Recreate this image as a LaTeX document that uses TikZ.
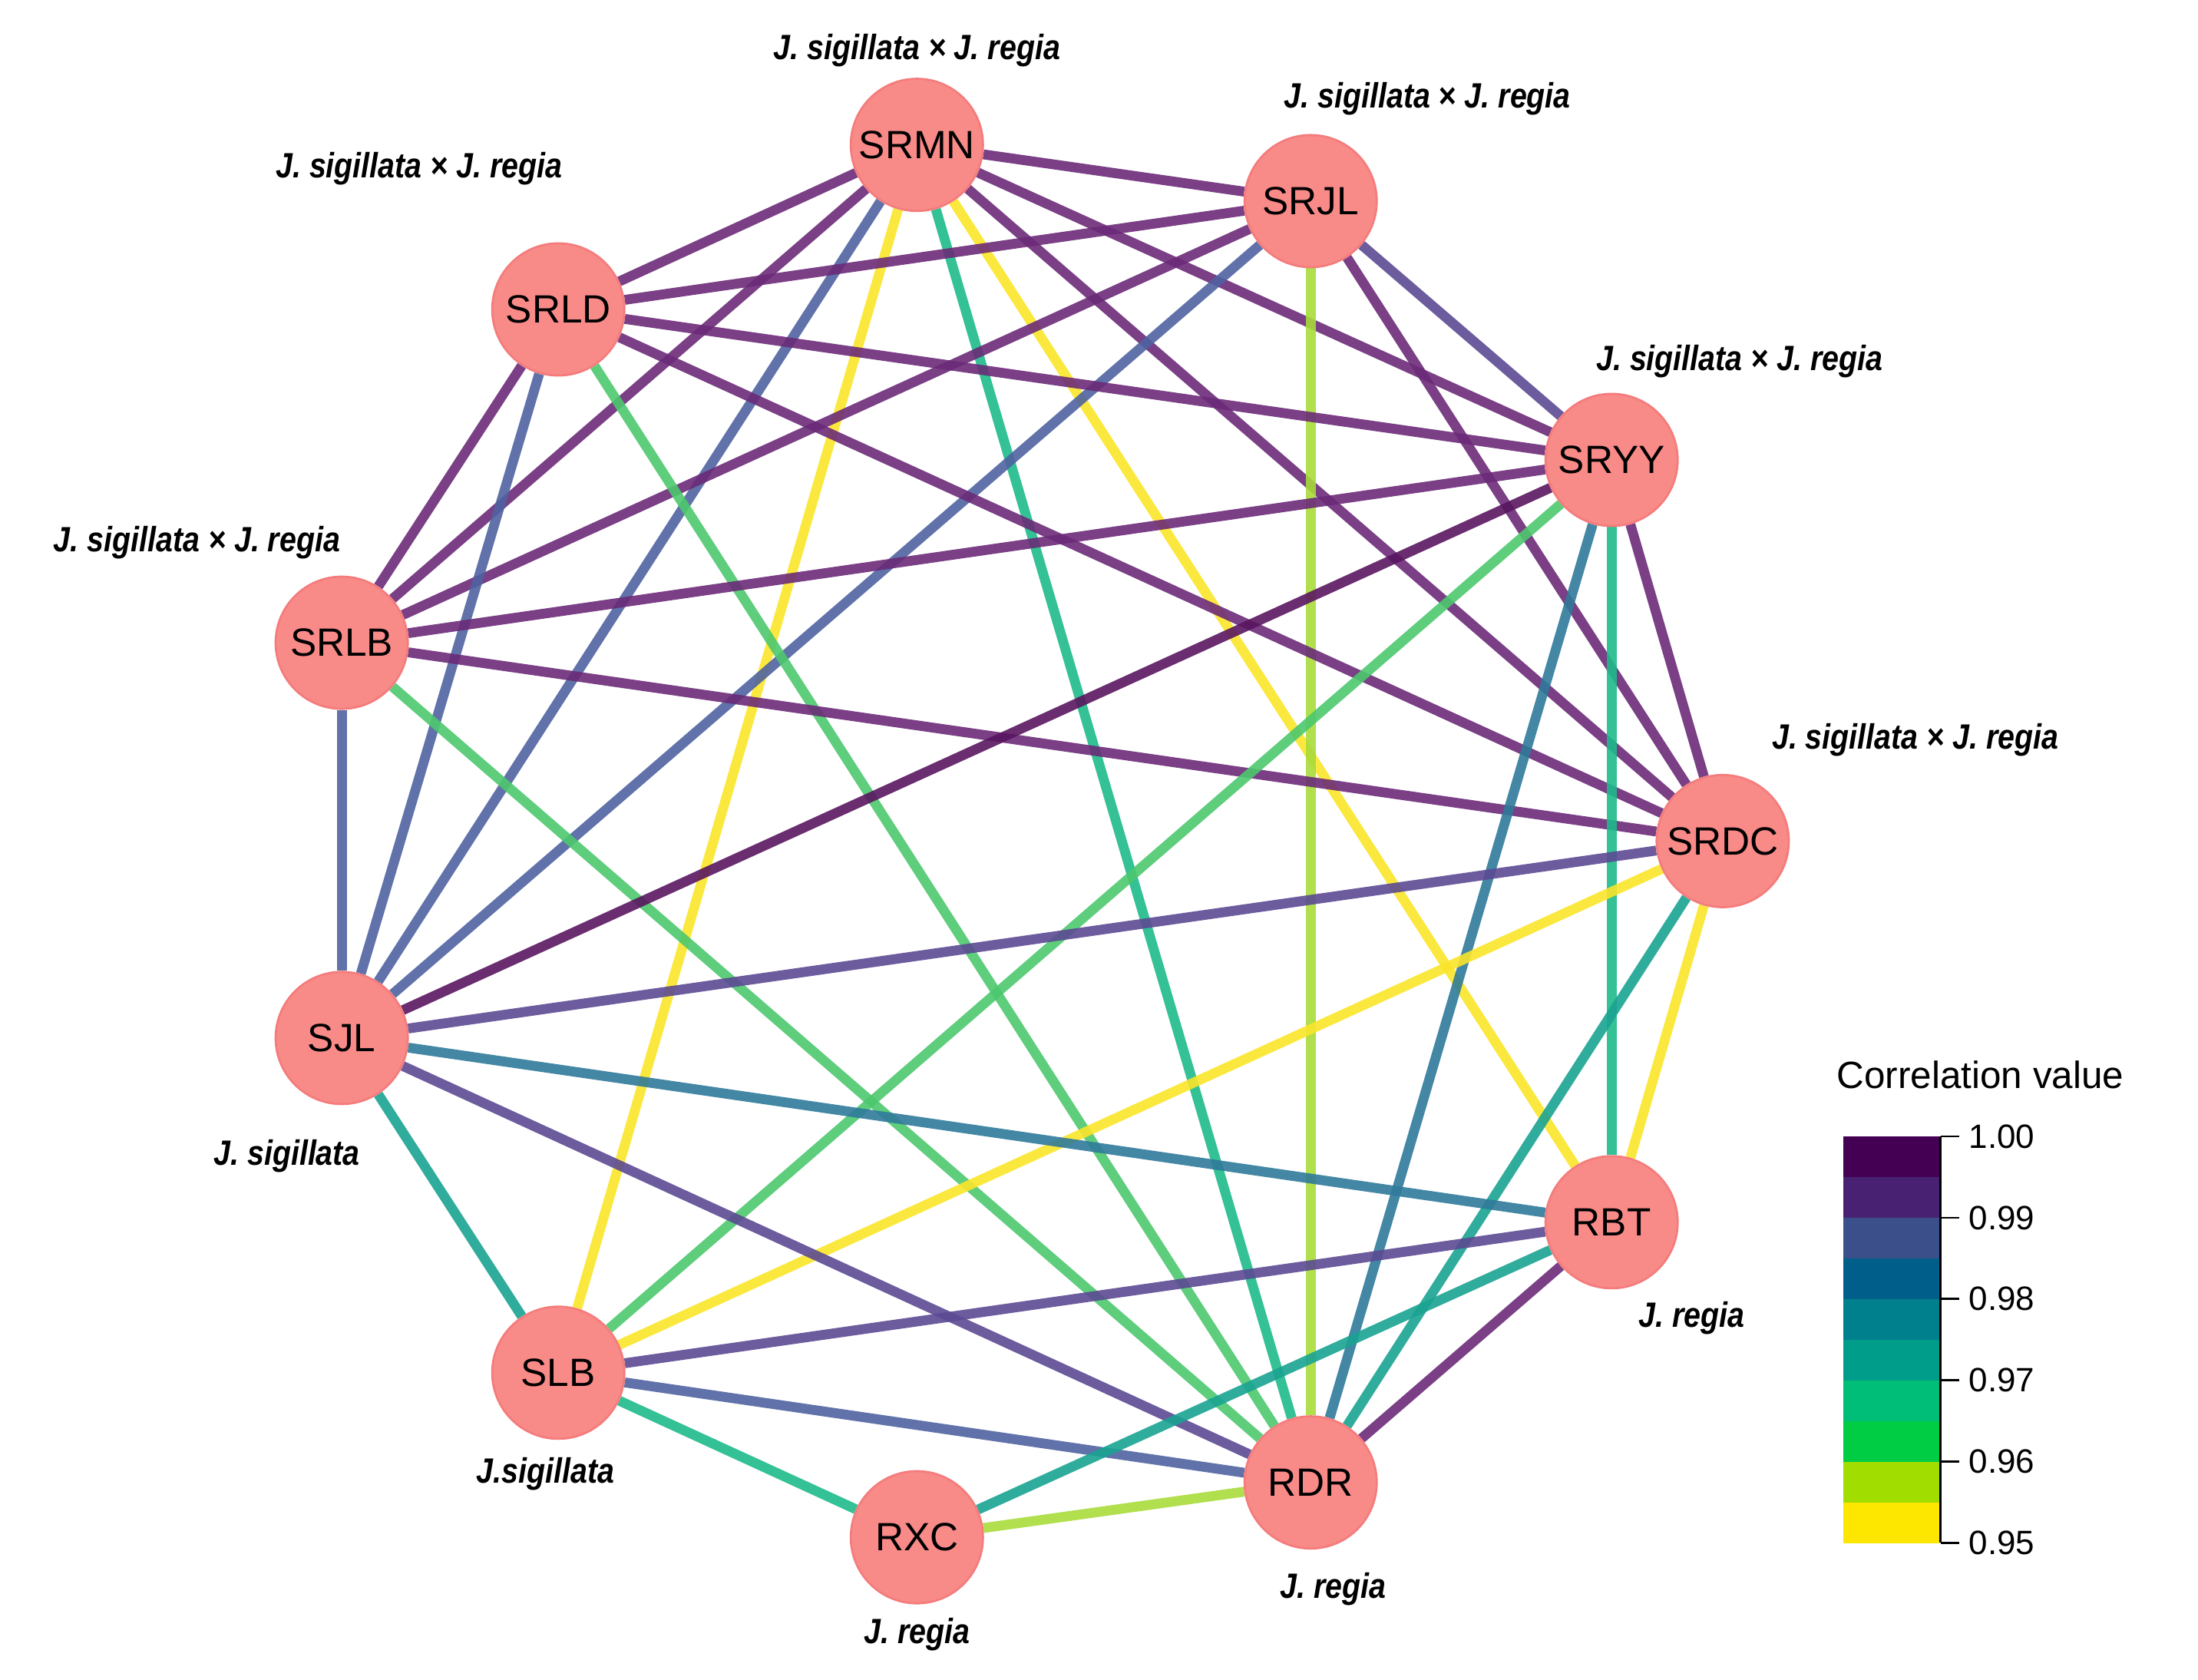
\documentclass[tikz,border=0pt]{standalone}
\usepackage{fontspec}
\setmainfont{Liberation Sans}
\usetikzlibrary{backgrounds}
\definecolor{dpur}{HTML}{6B2A78}
\definecolor{ddpur}{HTML}{5A1660}
\definecolor{vpur}{HTML}{5C4A93}
\definecolor{eblue}{HTML}{4F63A0}
\definecolor{tblue}{HTML}{2F7A9A}
\definecolor{teal}{HTML}{1AA392}
\definecolor{tgreen}{HTML}{1DBA8A}
\definecolor{egreen}{HTML}{4DC86E}
\definecolor{ygreen}{HTML}{A8DC3A}
\definecolor{eyellow}{HTML}{FBE52A}
\definecolor{nfill}{HTML}{F88A88}
\definecolor{ndraw}{HTML}{F47C7C}
\begin{document}
\begin{tikzpicture}[x=1pt,y=-1pt,
  nd/.style={circle,fill=nfill,draw=ndraw,line width=1.5pt,minimum size=94pt,inner sep=0pt,font=\fontsize{28}{30}\selectfont},
  lb/.style={font=\fontsize{25}{27}\selectfont\bfseries\itshape,xscale=0.86,inner sep=0pt},
  e/.style={line width=7pt,opacity=0.9},
  tk/.style={font=\fontsize{24}{26}\selectfont,anchor=west,inner sep=0pt}]
\useasboundingbox (0,0) rectangle (1563,1194);
\node[nd] (SRMN) at (652,103) {SRMN};
\node[nd] (SRJL) at (932,143) {SRJL};
\node[nd] (SRYY) at (1146,327) {SRYY};
\node[nd] (SRDC) at (1225,598) {SRDC};
\node[nd] (RBT) at (1146,869) {RBT};
\node[nd] (RDR) at (932,1054) {RDR};
\node[nd] (RXC) at (652,1093) {RXC};
\node[nd] (SLB) at (397,976) {SLB};
\node[nd] (SJL) at (243,738) {SJL};
\node[nd] (SRLB) at (243,457) {SRLB};
\node[nd] (SRLD) at (397,220) {SRLD};
\begin{pgfonlayer}{background}
\foreach \a/\b/\c in {SRMN/SRJL/dpur,SRMN/SRLD/dpur,SRMN/SRLB/dpur,SRMN/SJL/eblue,SRMN/SLB/eyellow,
 SRMN/RDR/tgreen,SRMN/RBT/eyellow,SRMN/SRDC/dpur,SRMN/SRYY/dpur,
 SRJL/SRLD/dpur,SRJL/SRLB/dpur,SRJL/SJL/eblue,SRJL/RDR/ygreen,SRJL/SRYY/vpur,SRJL/SRDC/dpur,
 SRLD/SRYY/dpur,SRLD/SRDC/dpur,SRLD/SRLB/dpur,SRLD/SJL/eblue,SRLD/RDR/egreen,
 SRLB/SRYY/dpur,SRLB/SRDC/dpur,SRLB/SJL/eblue,SRLB/RDR/egreen,
 SRYY/SJL/ddpur,SRYY/SLB/egreen,SRYY/RDR/tblue,SRYY/RBT/tgreen,SRYY/SRDC/dpur,
 SRDC/SJL/vpur,SRDC/SLB/eyellow,SRDC/RDR/teal,SRDC/RBT/eyellow,
 SJL/RBT/tblue,SJL/SLB/teal,SJL/RDR/vpur,
 SLB/RBT/vpur,SLB/RDR/eblue,SLB/RXC/tgreen,RXC/RBT/teal,RXC/RDR/ygreen,RDR/RBT/dpur}
 \draw[e,draw=\c] (\a) -- (\b);
\end{pgfonlayer}
\node[lb] (l1) at (652,36) {J. sigillata × J. regia};
\node[lb] (l2) at (1015,70) {J. sigillata × J. regia};
\node[lb] (l3) at (298,120) {J. sigillata × J. regia};
\node[lb] (l4) at (1237,257) {J. sigillata × J. regia};
\node[lb] (l5) at (140,386) {J. sigillata × J. regia};
\node[lb] (l6) at (1362,526) {J. sigillata × J. regia};
\node[lb] (l7) at (204,822) {J. sigillata};
\node[lb] (l8) at (388,1048) {J.sigillata};
\node[lb] (l9) at (652,1162) {J. regia};
\node[lb] (l10) at (948,1130) {J. regia};
\node[lb] (l11) at (1203,937) {J. regia};
% legend
\node[font=\fontsize{27}{29}\selectfont,anchor=west,inner sep=0pt] (lt) at (1306,764) {Correlation value};
\foreach \i/\c in {0/440154,1/482173,2/3B4F8A,3/005F8A,4/00808C,5/009E8A,6/00BD78,7/00CC44,8/A2DD00,9/FDE700}{
  \definecolor{bc}{HTML}{\c}
  \fill[bc] (1311,{808+\i*28.9}) rectangle (1379,{808+(\i+1)*28.9+0.3});
}
\draw[line width=1.5pt] (1380,808) -- (1380,1097);
\foreach \i/\t in {0/1.00,1/0.99,2/0.98,3/0.97,4/0.96,5/0.95}{
  \draw[line width=1.5pt] (1380,{808+\i*57.8}) -- (1393,{808+\i*57.8});
  \node[tk] (t\i) at (1400,{808+\i*57.8}) {\t};
}
\end{tikzpicture}
\end{document}
